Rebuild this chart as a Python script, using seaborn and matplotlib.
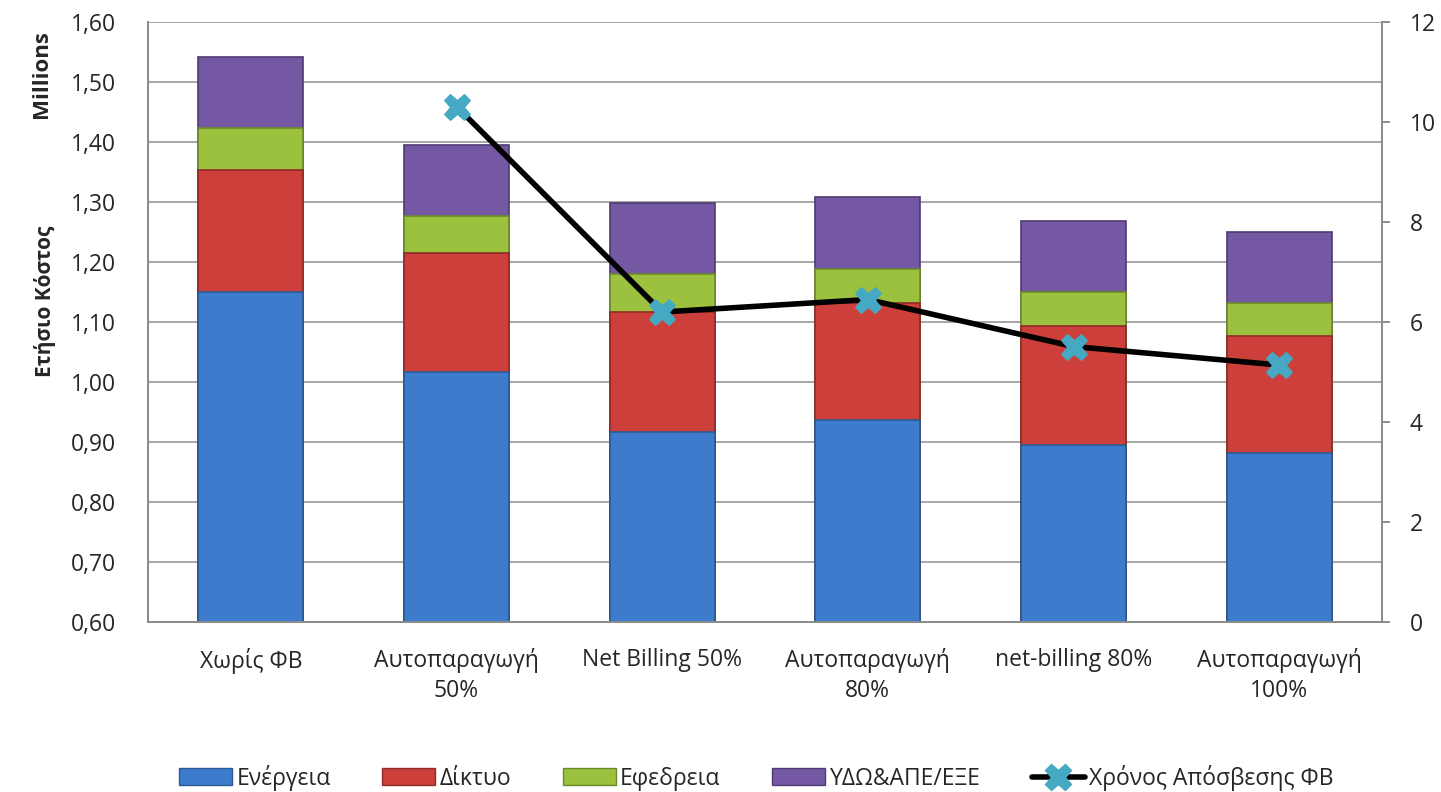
import numpy as np
import pandas as pd
import matplotlib
matplotlib.use("Agg")
import matplotlib.pyplot as plt
import seaborn as sns
from matplotlib.patches import Patch
from matplotlib.lines import Line2D
from matplotlib.ticker import FuncFormatter

categories = ["Χωρίς ΦΒ", "Αυτοπαραγωγή\n50%", "Net Billing 50%",
              "Αυτοπαραγωγή\n80%", "net-billing 80%", "Αυτοπαραγωγή\n100%"]
energy = [1.150, 1.016, 0.917, 0.936, 0.895, 0.881]
network = [0.203, 0.199, 0.200, 0.196, 0.199, 0.195]
reserve = [0.070, 0.062, 0.063, 0.057, 0.056, 0.055]
ydo = [0.119, 0.118, 0.119, 0.120, 0.119, 0.119]
payback = [np.nan, 10.31, 6.20, 6.45, 5.51, 5.14]

series_names = ["Ενέργεια", "Δίκτυο", "Εφεδρεια", "ΥΔΩ&ΑΠΕ/ΕΞΕ"]
line_name = "Χρόνος Απόσβεσης ΦΒ"
colors = ["#3D7BCD", "#CC3F3A", "#9CC13E", "#7458A3"]
edges = ["#2B5A94", "#8E2A27", "#6C8A2A", "#4F3B73"]
marker_color = "#45A9C4"

sns.set_theme(style="white")
plt.rcParams['font.family'] = ['Open Sans', 'DejaVu Sans']

fig = plt.figure(figsize=(14.41, 7.92), dpi=100)
ax = fig.add_axes([0.1027, 0.2146, 0.8564, 0.7576])

layers = [energy, network, reserve, ydo]
cum = np.cumsum(np.array(layers), axis=0)
df = pd.DataFrame({"cat": categories})
# draw from top layer to bottom so lower layers overlay the upper totals
for i in range(3, -1, -1):
    df["v"] = cum[i]
    sns.barplot(data=df, x="cat", y="v", color=colors[i], ax=ax, width=0.51,
                edgecolor=edges[i], linewidth=1.2, saturation=1, zorder=2)

ax.set_ylim(0.6, 1.6)
ax.set_yticks(np.arange(0.6, 1.61, 0.1))
ax.yaxis.set_major_formatter(FuncFormatter(lambda v, p: f"{v:.2f}".replace(".", ",")))
ax.yaxis.grid(True, color="#A6A6A6", linewidth=1.4, zorder=0)
ax.set_axisbelow(True)
ax.set_xlabel("")
ax.set_ylabel("")
ax.set_xlim(-0.5, 5.5)
ax.spines["top"].set_visible(False)
for s in ["left", "right", "bottom"]:
    ax.spines[s].set_color("#8C8C8C")
    ax.spines[s].set_linewidth(1.4)
ax.tick_params(axis="y", left=True, length=0, labelsize=16.5, pad=23)
ax.tick_params(axis="x", bottom=False, labelsize=16.5, pad=13)
for lab in ax.get_xticklabels():
    lab.set_linespacing(1.3)

ax2 = ax.twinx()
xs = np.arange(len(categories))
sns.lineplot(x=xs, y=payback, ax=ax2, color="black", linewidth=4, marker="X",
             markersize=19, markerfacecolor=marker_color, markeredgecolor=marker_color,
             zorder=5, sort=False)
ax2.set_ylim(0, 12)
ax2.set_yticks(range(0, 13, 2))
ax2.tick_params(axis="y", right=True, length=6, width=1.4, color="#8C8C8C",
                labelsize=16.5, pad=14)
ax2.spines["top"].set_visible(False)
for s in ["left", "right", "bottom"]:
    ax2.spines[s].set_color("#8C8C8C")
    ax2.spines[s].set_linewidth(1.4)
ax2.grid(False)

fig.text(0.031, 0.62, "Ετήσιο Κόστος", rotation=90, fontsize=15, fontweight="bold",
         ha="center", va="center")
fig.text(0.029, 0.906, "Millions", rotation=90, fontsize=16, fontweight="bold",
         ha="center", va="center")

handles = [Patch(facecolor=colors[i], edgecolor=edges[i]) for i in range(4)]
handles.append(Line2D([0], [0], color="black", linewidth=4, marker="X", markersize=19,
                      markerfacecolor=marker_color, markeredgecolor=marker_color))
fig.legend(handles, series_names + [line_name], loc="center", bbox_to_anchor=(0.525, 0.018),
           ncol=5, frameon=False, fontsize=16.5, handlelength=2.3, handleheight=0.75,
           columnspacing=2.25, handletextpad=0.2)

fig.savefig("out.png", dpi=100)
